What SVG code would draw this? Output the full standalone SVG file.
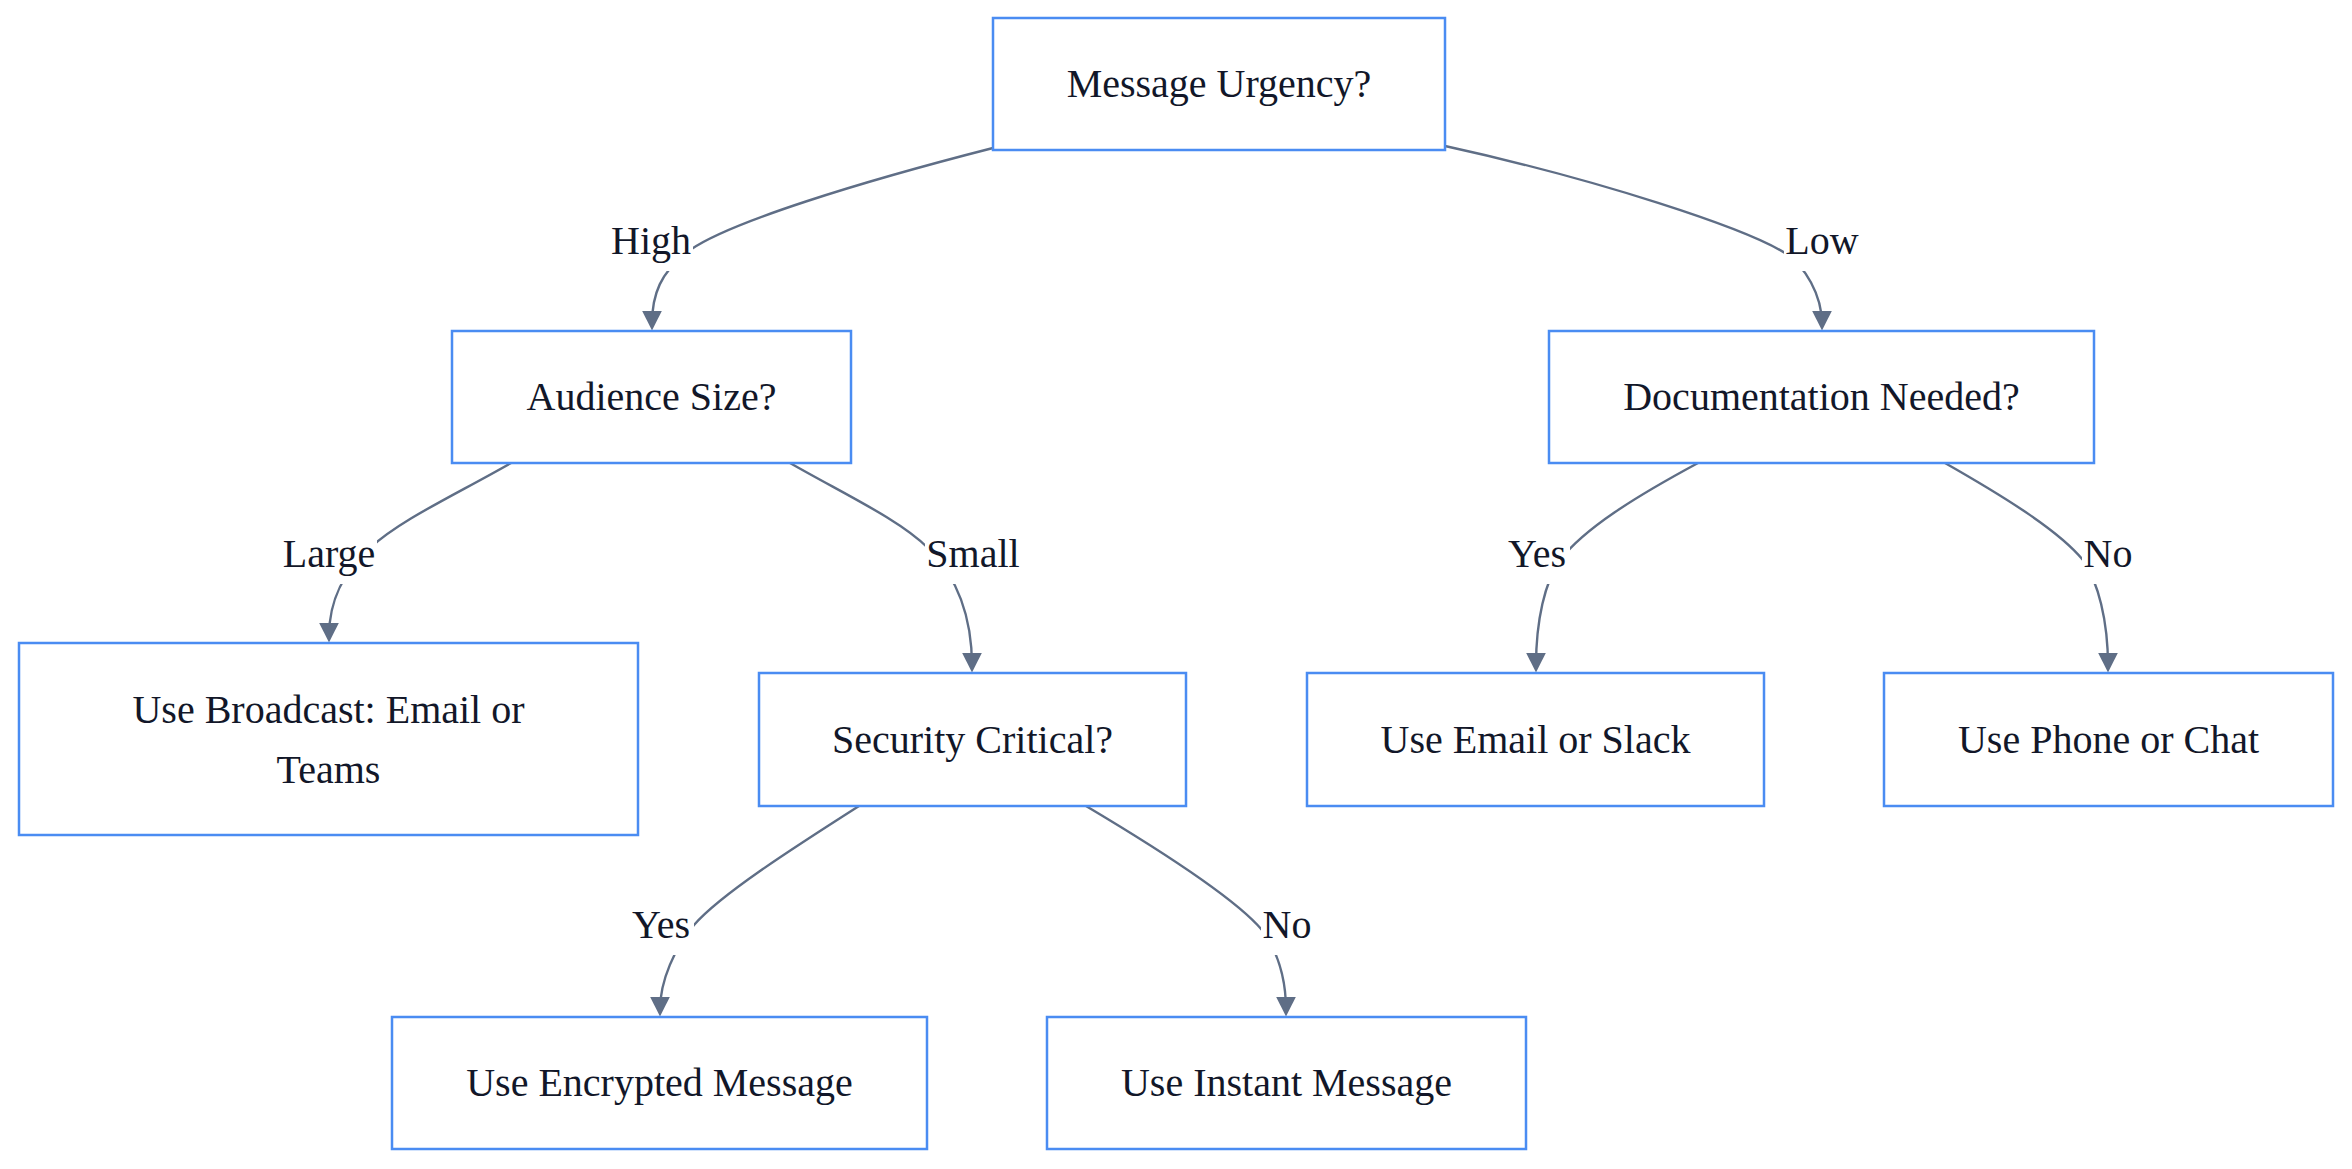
<svg xmlns="http://www.w3.org/2000/svg" width="2352" height="1169" viewBox="0 0 2352 1169">
<style>
.node rect{fill:#ffffff;stroke:#4a8cf2;stroke-width:2.5}
.node text,.lbl text{font-family:"Liberation Serif","Times New Roman",serif;font-size:40px;fill:#121729;text-anchor:middle}
.edge{fill:none;stroke:#5f6e86;stroke-width:2.4}
.lbl rect{fill:#ffffff}
</style>
<defs>
<marker id="arr" viewBox="0 0 10 10" refX="6.7" refY="5" markerWidth="20" markerHeight="20" markerUnits="userSpaceOnUse" orient="auto">
<path d="M0,0 L10,5 L0,10 z" fill="#5f6e86"/>
</marker>
</defs>
<rect width="2352" height="1169" fill="#ffffff"/>
<g id="connectors">
<path class="edge" marker-end="url(#arr)" d="M993,148 C860,182 730,222 690,250 C660,272 652,295 652,324"/>
<path class="edge" marker-end="url(#arr)" d="M1445,146 C1600,180 1745,228 1785,253 C1805,266 1822,295 1822,324"/>
<path class="edge" marker-end="url(#arr)" d="M511,463 C455,495 400,520 370,548 C345,570 329,600 329,636"/>
<path class="edge" marker-end="url(#arr)" d="M790,463 C846,495 900,520 928,548 C952,572 972,610 972,666"/>
<path class="edge" marker-end="url(#arr)" d="M1698,463 C1635,497 1585,528 1560,560 C1545,582 1536,620 1536,666"/>
<path class="edge" marker-end="url(#arr)" d="M1945,463 C2010,500 2060,532 2083,560 C2098,582 2108,620 2108,666"/>
<path class="edge" marker-end="url(#arr)" d="M859,806 C790,850 720,895 694,925 C675,948 660,980 660,1010"/>
<path class="edge" marker-end="url(#arr)" d="M1086,806 C1160,850 1235,898 1262,930 C1278,952 1286,980 1286,1010"/>
<g class="lbl"><rect x="609" y="211" width="84" height="60"/><text x="651" y="254">High</text></g>
<g class="lbl"><rect x="1784" y="211" width="76" height="60"/><text x="1822" y="254">Low</text></g>
<g class="lbl"><rect x="281" y="524" width="96" height="60"/><text x="329" y="567">Large</text></g>
<g class="lbl"><rect x="925" y="524" width="96" height="60"/><text x="973" y="567">Small</text></g>
<g class="lbl"><rect x="1504" y="524" width="66" height="60"/><text x="1537" y="567">Yes</text></g>
<g class="lbl"><rect x="2082" y="524" width="53" height="60"/><text x="2108" y="567">No</text></g>
<g class="lbl"><rect x="628" y="895" width="66" height="60"/><text x="661" y="938">Yes</text></g>
<g class="lbl"><rect x="1261" y="895" width="53" height="60"/><text x="1287" y="938">No</text></g>
</g>
<g id="n1" class="node"><rect x="993" y="18" width="452" height="132"/><text x="1219" y="97">Message Urgency?</text></g>
<g id="n2" class="node"><rect x="452" y="331" width="399" height="132"/><text x="651.5" y="410">Audience Size?</text></g>
<g id="n3" class="node"><rect x="1549" y="331" width="545" height="132"/><text x="1821.5" y="410">Documentation Needed?</text></g>
<g id="n4" class="node"><rect x="19" y="643" width="619" height="192"/><text x="328.5" y="723">Use Broadcast: Email or</text><text x="328.5" y="783">Teams</text></g>
<g id="n5" class="node"><rect x="759" y="673" width="427" height="133"/><text x="972.5" y="753">Security Critical?</text></g>
<g id="n6" class="node"><rect x="1307" y="673" width="457" height="133"/><text x="1535.5" y="753">Use Email or Slack</text></g>
<g id="n7" class="node"><rect x="1884" y="673" width="449" height="133"/><text x="2108.5" y="753">Use Phone or Chat</text></g>
<g id="n8" class="node"><rect x="392" y="1017" width="535" height="132"/><text x="659.5" y="1096">Use Encrypted Message</text></g>
<g id="n9" class="node"><rect x="1047" y="1017" width="479" height="132"/><text x="1286.5" y="1096">Use Instant Message</text></g>
</svg>
